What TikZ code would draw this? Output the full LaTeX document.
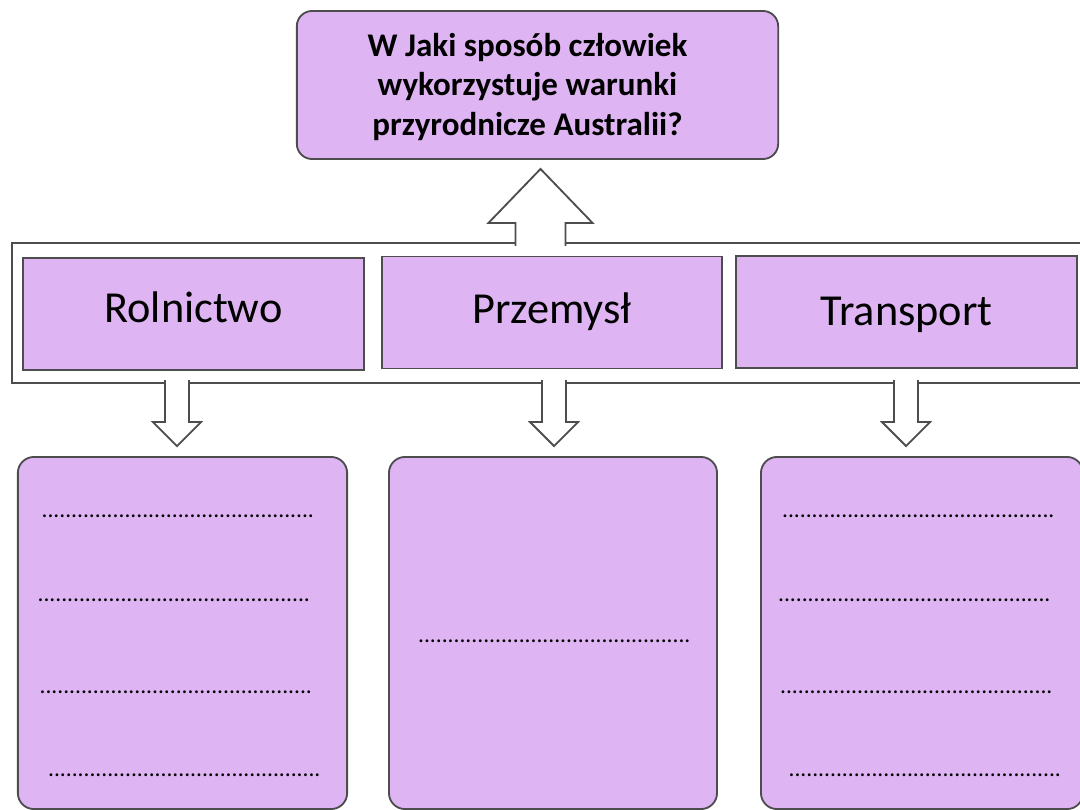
\documentclass[tikz,border=0pt]{standalone}
\usepackage{fontspec}
\setmainfont{Carlito}
\usetikzlibrary{positioning, calc}
\definecolor{lilac}{HTML}{DEB5F2}
\definecolor{edgeGrey}{HTML}{4D4D4D}
\newcommand{\dotrow}{..............................................}

\begin{document}
\begin{tikzpicture}[x=0.025cm, y=-0.025cm,
    card/.style={draw=edgeGrey, fill=lilac, line width=1.3pt, inner sep=0pt},
    qbox/.style={card, rounded corners=0.38cm, minimum width=12.03cm, minimum height=3.7cm},
    cat/.style={card, minimum width=8.52cm, minimum height=2.8cm,
      font=\fontsize{31.5}{36}\selectfont, text height=22pt, text depth=9pt},
    res/.style={card, rounded corners=0.4cm, minimum height=8.8cm},
    dotline/.style={font=\fontsize{16.7}{20}\selectfont, anchor=base, inner sep=0pt},
    hollow/.style={draw=edgeGrey, fill=white, line width=1.3pt, line join=miter}]
  \useasboundingbox (0,0) rectangle (1080,810);
  % band round the three categories, open on the right
  \node[draw=edgeGrey, line width=1.3pt, minimum width=27.3cm, minimum height=3.5cm,
    inner sep=0pt] (band) at (558,313) {};
  \node[qbox] (q) at (537.5,85) {};
  \node[font=\fontsize{23.5}{28.4}\selectfont\bfseries, align=center] (qtext) at ($(q)+(-10,2)$)
    {W Jaki sposób człowiek\\ wykorzystuje warunki\\ przyrodnicze Australii?};
  \node[cat, text depth=10.5pt] (rol) at (193.5,314) {Rolnictwo};
  \node[cat, minimum width=8.5cm, text depth=6.2pt] (prz) at (552,312.5) {Przemysł};
  \node[cat, text depth=3.3pt] (tra) at (906.5,312) {Transport};
  \node[res, minimum width=8.23cm] (rrol) at (182.5,633) {};
  \node[res, minimum width=8.2cm] (rprz) at (553,633) {};
  \node[res, minimum width=8.05cm] (rtra) at (922,633) {};
  % hollow arrows
  \coordinate (up) at ($(q.south)+(3,9)$);
  \draw[hollow] ($(up)+(-25,77)$) -- ++(0,-23) -- ++(-27,0) -- (up) -- ++(52,54) -- ++(-27,0) -- ++(0,23);
  \foreach \r/\dx in {rrol/-5.5, rprz/1, rtra/-16} {
    \coordinate (tip) at ($(\r.north)+(\dx,-10)$);
    \draw[hollow] ($(tip)+(-12,-66)$) -- ++(0,42) -- ++(-12,0) -- (tip) -- ++(24,-24) -- ++(-12,0) -- ++(0,-42);
  }
  % answer lines
  \foreach \x/\y [count=\i] in {178/516, 174/600, 176/692, 184.5/775}
    \node[dotline] (l\i) at (\x,\y+1.5) {\dotrow};
  \node[dotline] (m1) at (554.5,642.5) {\dotrow};
  \foreach \x/\y [count=\i] in {918.5/516, 914.5/600, 916.5/692, 925/775}
    \node[dotline] (r\i) at (\x,\y+1.5) {\dotrow};
\end{tikzpicture}
\end{document}
